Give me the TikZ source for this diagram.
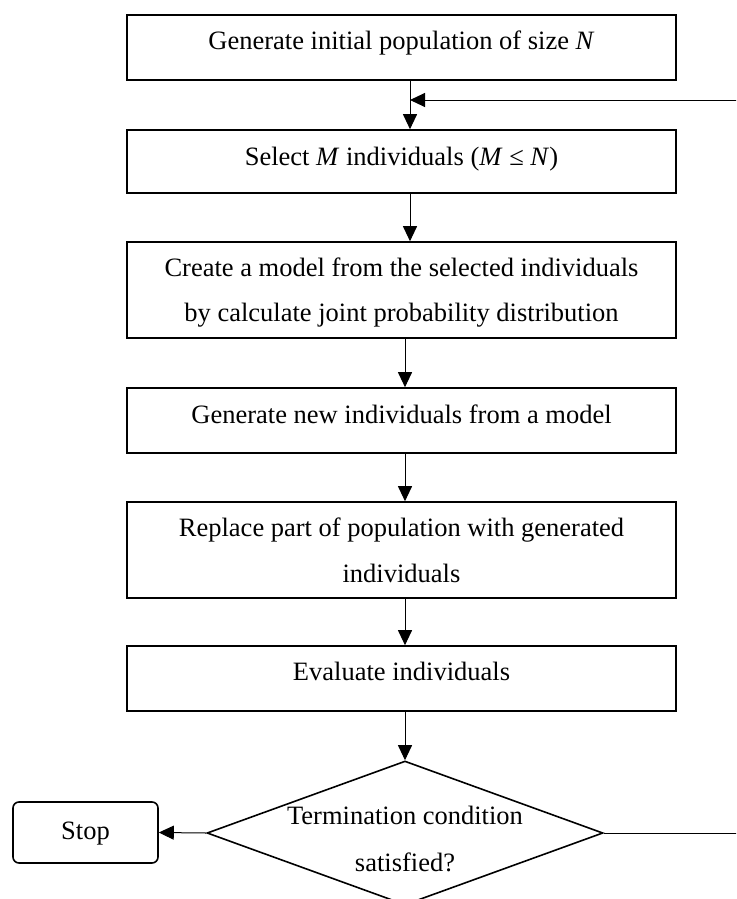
\documentclass[tikz,border=0pt]{standalone}
\usepackage{fontspec}
\setmainfont{Liberation Serif}
\usetikzlibrary{arrows.meta,shapes.geometric}

% text of a node, with its last baseline set #1 above the node centre
\newcommand\lifted[2]{\raisebox{#1}[0pt][0pt]{\begin{tabular}[b]{@{}c@{}}#2\end{tabular}}}

\begin{document}
\begin{tikzpicture}[x=1pt,y=-1pt,
  every node/.append style={font=\fontsize{26.5}{45.5}\selectfont},
  flowbox/.style={draw, rectangle, line width=1.6pt, inner sep=0pt, minimum width=549pt},
  decision/.style={draw, diamond, shape aspect=2.75, line width=1.6pt, inner sep=0pt,
                   minimum width=396pt, minimum height=144pt},
  endbox/.style={draw, rectangle, rounded corners=6pt, line width=1.6pt, inner sep=0pt,
                 minimum width=145pt, minimum height=61pt},
  flow/.style={line width=1pt, -{Triangle[length=15pt,width=14pt]}}]

\fill[white] (0,0) rectangle (736,899);
\useasboundingbox (0,0) rectangle (736,899);
\clip (0,0) rectangle (736,899);

% process steps
\node[flowbox, minimum height=65pt] (init) at (401.5,47.5)
  {\lifted{-2.5pt}{Generate initial population of size \textit{N}}};
\node[flowbox, minimum height=63pt] (select) at (401.5,161.5)
  {\lifted{-3.5pt}{Select \textit{M} individuals (\textit{M} ≤ \textit{N})}};
\node[flowbox, minimum height=96pt] (model) at (401.5,290)
  {\lifted{-31.7pt}{Create a model from the selected individuals\\by calculate joint probability distribution}};
\node[flowbox, minimum height=65pt] (sample) at (401.5,420.5)
  {\lifted{-2.5pt}{Generate new individuals from a model}};
\node[flowbox, minimum height=96pt] (replace) at (401.5,550)
  {\lifted{-32pt}{Replace part of population with generated\\individuals}};
\node[flowbox, minimum height=65pt] (eval) at (401.5,678.5)
  {\lifted{-2pt}{Evaluate individuals}};
\node[decision] (term) at (405,833)
  {\lifted{-38.7pt}{Termination condition\\[1.5pt]satisfied?}};
\node[endbox] (stop) at (85.5,832.5) {\lifted{-6.5pt}{Stop}};

% loop back into the selection step
\coordinate (rejoin) at (410,100);
\coordinate (loopA) at (760,833);
\coordinate (loopB) at (760,100);

% connectors
\draw[flow] (init.south -| rejoin) -- (select.north -| rejoin);
\draw[flow] (select.south -| rejoin) -- (model.north -| rejoin);
\draw[flow] (model.south -| term.north) -- (sample.north -| term.north);
\draw[flow] (sample.south -| term.north) -- (replace.north -| term.north);
\draw[flow] (replace.south -| term.north) -- (eval.north -| term.north);
\draw[flow] (eval.south -| term.north) -- (term.north);
\draw[flow] (term.west) -- (stop.east);
\draw[flow] (term.east) -- (loopA) -- (loopB) -- (rejoin);
\end{tikzpicture}
\end{document}
